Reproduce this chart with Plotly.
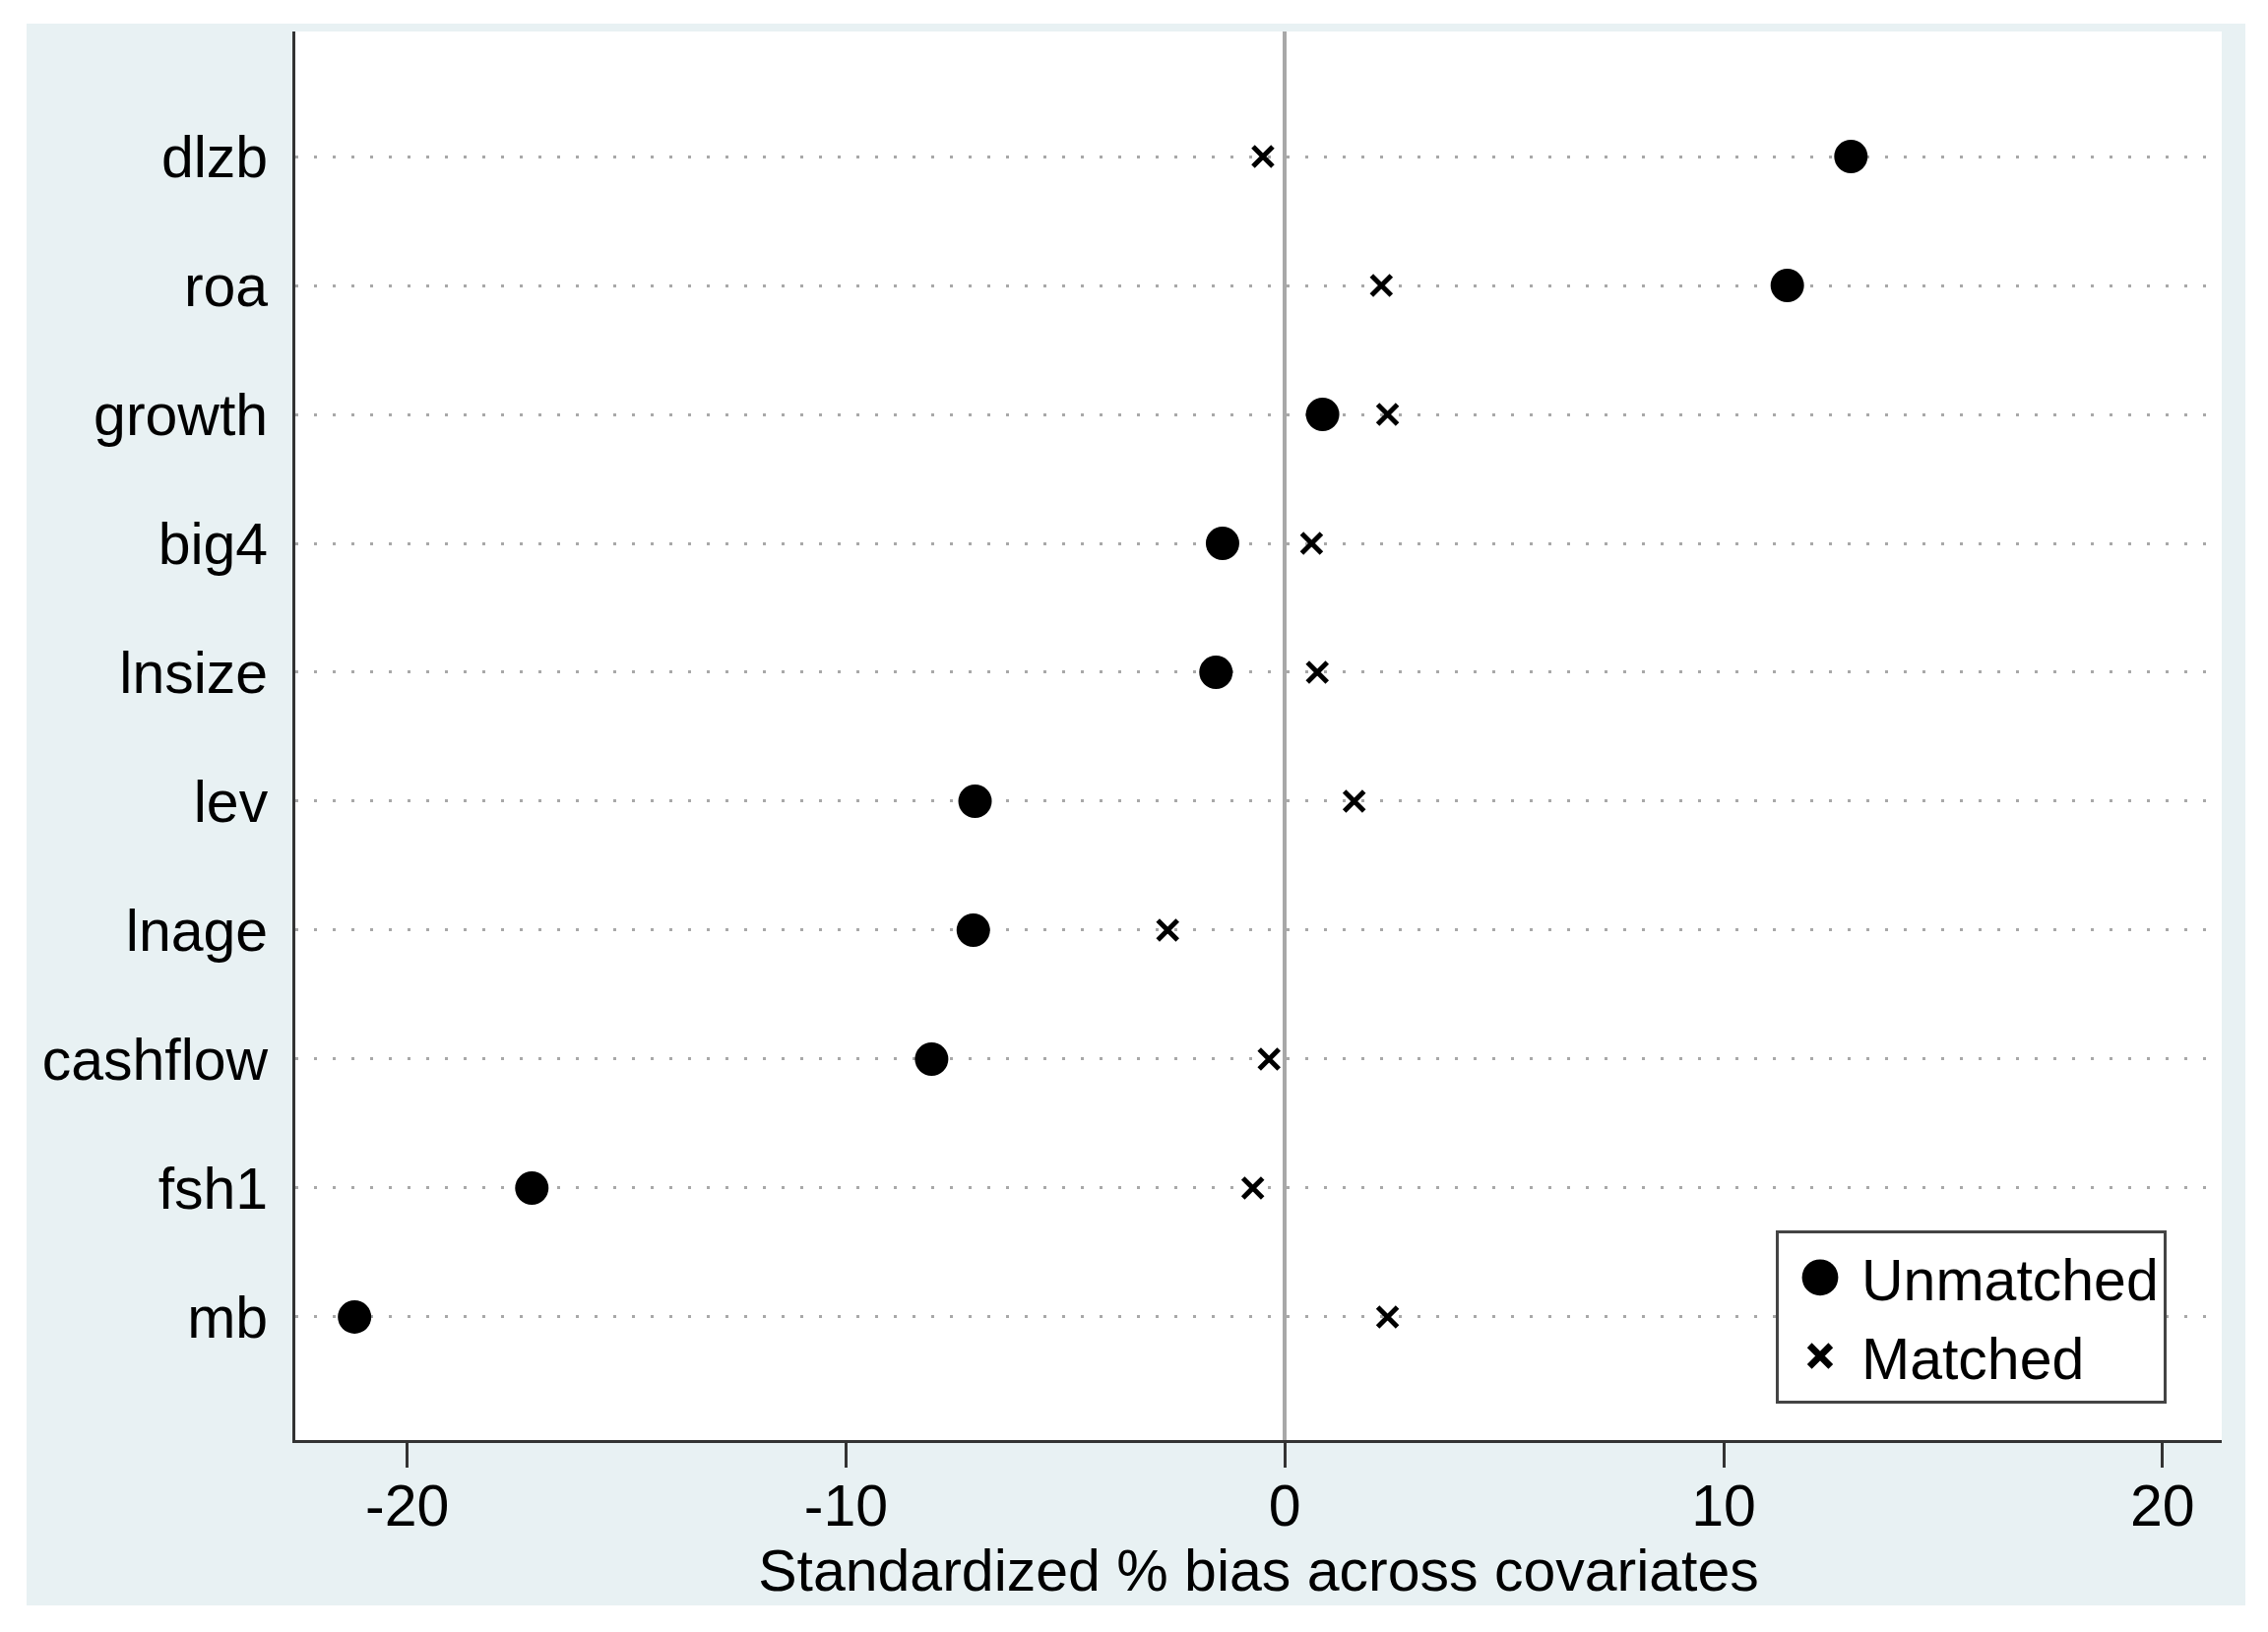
import plotly.graph_objects as go

# Covariates, top to bottom
covariates = ["dlzb", "roa", "growth", "big4", "lnsize", "lev", "lnage", "cashflow", "fsh1", "mb"]
unmatched = [12.9, 11.45, 0.86, -1.42, -1.57, -7.06, -7.1, -8.05, -17.16, -21.2]
matched = [-0.5, 2.2, 2.34, 0.61, 0.74, 1.58, -2.67, -0.36, -0.73, 2.34]
x_ticks = [-20, -10, 0, 10, 20]
x_title = "Standardized % bias across covariates"

FONT = "Liberation Sans, Arial, sans-serif"
OFF = 8  # default HTML body margin shifts the figure by 8px
W, H = 2304 - OFF, 1658 - OFF
L, R, T, B = 300 - OFF, 47, 32 - OFF, 195
pw, ph = W - L - R, H - T - B


def px_x(v):
    return (v - OFF - L) / pw


def px_y(v):
    return (H - B - (v - OFF)) / ph


fig = go.Figure()
fig.add_trace(go.Scatter(
    x=unmatched, y=covariates, mode="markers", name="Unmatched",
    marker=dict(symbol="circle", size=34, color="black", line=dict(width=0)),
))
fig.add_trace(go.Scatter(
    x=matched, y=covariates, mode="markers", name="Matched",
    marker=dict(symbol="x-thin", size=20, color="black", line=dict(width=5, color="black")),
))

# Stata-like graph region (light bluish gray) and white plot region
fig.add_shape(type="rect", xref="paper", yref="paper",
              x0=px_x(27), x1=px_x(2281), y0=px_y(1631), y1=px_y(24),
              fillcolor="#E8F1F3", line=dict(width=0), layer="below")
fig.add_shape(type="rect", xref="paper", yref="paper",
              x0=0, x1=1, y0=0, y1=1,
              fillcolor="white", line=dict(width=0), layer="below")

fig.update_layout(
    width=W, height=H,
    margin=dict(l=L, r=R, t=T, b=B, pad=0),
    paper_bgcolor="white", plot_bgcolor="white",
    font=dict(family=FONT, size=59, color="black"),
    showlegend=True,
    legend=dict(
        x=px_x(1804), y=px_y(1250), xanchor="left", yanchor="top",
        bgcolor="white", bordercolor="#444444", borderwidth=3,
        font=dict(family=FONT, size=59, color="black"),
        itemsizing="trace", itemwidth=74, tracegroupgap=0,
    ),
    xaxis=dict(
        range=[-22.55, 21.35], tickmode="array", tickvals=x_ticks,
        ticktext=[str(v) for v in x_ticks],
        ticks="outside", ticklen=25, tickwidth=3, tickcolor="#333333",
        ticklabelstandoff=-12,
        showline=True, linecolor="#333333", linewidth=3,
        showgrid=False, zeroline=True, zerolinecolor="#A8A8A8", zerolinewidth=4,
        title=dict(text=x_title, standoff=4, font=dict(size=59)),
        tickfont=dict(size=59),
    ),
    yaxis=dict(
        type="category", categoryorder="array", categoryarray=covariates[::-1],
        range=[-0.955, 9.97],
        showline=True, linecolor="#333333", linewidth=3,
        ticks="", ticklabelstandoff=13,
        showgrid=True, gridcolor="#A8A8A8", gridwidth=3, griddash="3px,16px",
        zeroline=False, tickfont=dict(size=59),
    ),
)

# Enlarge legend symbols (Plotly caps legend marker size at 16px)
post_js = """
var gd = document.getElementById('{plot_id}');
function enlargeLegend(){
  var items = gd.querySelectorAll('.legend .traces');
  var scales = [2.3, 1.35];
  items.forEach(function(t, i){
    t.querySelectorAll('path.scatterpts').forEach(function(p){
      var tr = p.getAttribute('transform') || '';
      if (tr.indexOf('scale') < 0) { p.setAttribute('transform', tr + ' scale(' + scales[i] + ')'); }
    });
  });
}
enlargeLegend();
gd.on('plotly_afterplot', enlargeLegend);
"""

fig.write_html("out.html", post_script=post_js)
